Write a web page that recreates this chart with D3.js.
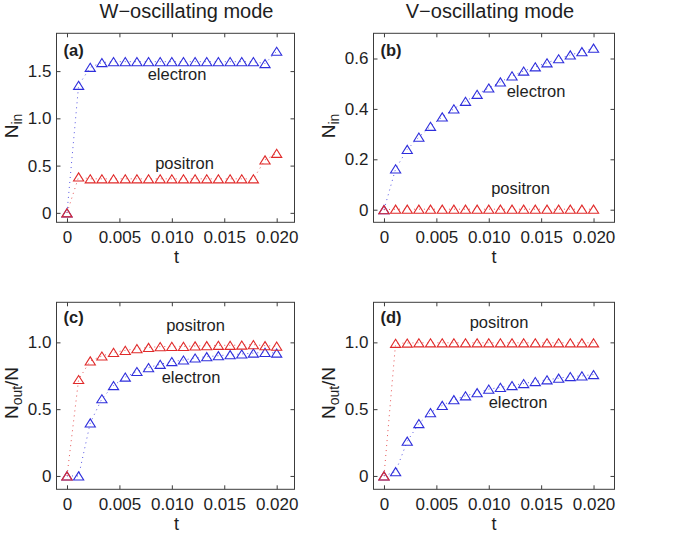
<!DOCTYPE html>
<html><head><meta charset="utf-8">
<script src="https://cdn.jsdelivr.net/npm/d3@7/dist/d3.min.js"></script>
<style>body{margin:0;background:#fff}svg{display:block}</style>
</head><body>
<svg id="chart" width="685" height="534"></svg>
<script>
// ---------------- data ----------------
const tValues = [0, 0.00111, 0.00222, 0.00333, 0.00444, 0.00556, 0.00667, 0.00778, 0.00889, 0.01,
                 0.01111, 0.01222, 0.01333, 0.01444, 0.01556, 0.01667, 0.01778, 0.01889, 0.02];

const aElectron = [0, 1.35, 1.54, 1.59, 1.60, 1.60, 1.60, 1.60, 1.60, 1.60, 1.60, 1.60, 1.60, 1.60, 1.60, 1.60, 1.60, 1.58, 1.71];
const aPositron = [0, 0.38, 0.36, 0.36, 0.36, 0.36, 0.36, 0.36, 0.36, 0.36, 0.36, 0.36, 0.36, 0.36, 0.36, 0.36, 0.36, 0.56, 0.63];

const bElectron = [0, 0.162, 0.239, 0.288, 0.331, 0.368, 0.400, 0.430, 0.458, 0.483, 0.507, 0.531, 0.550, 0.567, 0.583, 0.599, 0.614, 0.627, 0.641];
const bPositron = [0, 0.002, 0.002, 0.002, 0.002, 0.002, 0.002, 0.002, 0.002, 0.002, 0.002, 0.002, 0.002, 0.002, 0.002, 0.002, 0.002, 0.002, 0.002];

const cElectron = [0, 0, 0.397, 0.578, 0.677, 0.740, 0.782, 0.811, 0.836, 0.856, 0.868, 0.883, 0.893, 0.900, 0.908, 0.913, 0.920, 0.925, 0.920];
const cPositron = [0, 0.722, 0.861, 0.898, 0.925, 0.940, 0.953, 0.962, 0.968, 0.970, 0.970, 0.973, 0.975, 0.978, 0.978, 0.980, 0.983, 0.975, 0.972];

const dElectron = [0, 0.032, 0.260, 0.392, 0.474, 0.528, 0.571, 0.600, 0.623, 0.650, 0.663, 0.677, 0.692, 0.707, 0.720, 0.732, 0.744, 0.749, 0.759];
const dPositron = [0, 0.993, 0.995, 0.997, 0.997, 0.997, 0.997, 0.997, 0.997, 0.997, 0.997, 0.997, 0.997, 0.997, 0.997, 0.997, 0.997, 0.997, 0.997];

const xTicks = [0, 0.005, 0.010, 0.015, 0.020];
const xTickLabels = ["0", "0.005", "0.010", "0.015", "0.020"];
const yTicksA = [0, 0.5, 1.0, 1.5];
const yTickLabelsA = ["0", "0.5", "1.0", "1.5"];
const yTicksB = [0, 0.2, 0.4, 0.6];
const yTickLabelsB = ["0", "0.2", "0.4", "0.6"];
const yTicksCD = [0, 0.5, 1.0];
const yTickLabelsCD = ["0", "0.5", "1.0"];

const columnTitles = ["W\u2212oscillating mode", "V\u2212oscillating mode"];
const panelLetters = ["(a)", "(b)", "(c)", "(d)"];
const seriesNames = ["electron", "positron"];

// ---------------- drawing ----------------
const svg = d3.select("#chart");
const FONT = "'Liberation Sans', Arial, Helvetica, sans-serif";
const BLUE = "#2e2edc", RED = "#e02a2a", FRAME = "#3c3c3c", TEXT = "#1e1e1e";

const tri = {
  draw(ctx, size) {
    const w = Math.sqrt(size) * 1.5, h = Math.sqrt(size) * 1.2;
    ctx.moveTo(0, -h / 2);
    ctx.lineTo(w / 2, h / 2);
    ctx.lineTo(-w / 2, h / 2);
    ctx.closePath();
  }
};

function panel(cfg) {
  const x = d3.scaleLinear().domain(cfg.xDomain).range([cfg.left, cfg.right]);
  const y = d3.scaleLinear().domain(cfg.yDomain).range([cfg.bottom, cfg.top]);
  const g = svg.append("g");
  const tickLen = 4;

  g.append("rect").attr("x", cfg.left).attr("y", cfg.top)
    .attr("width", cfg.right - cfg.left).attr("height", cfg.bottom - cfg.top)
    .attr("fill", "none").attr("stroke", FRAME).attr("stroke-width", 1);

  const mk = (axis) => axis.tickSizeInner(-tickLen).tickSizeOuter(0);
  const xb = g.append("g").attr("transform", `translate(0,${cfg.bottom})`)
    .call(mk(d3.axisBottom(x).tickValues(xTicks).tickFormat((d, i) => xTickLabels[i])).tickPadding(9));
  const xt = g.append("g").attr("transform", `translate(0,${cfg.top})`)
    .call(mk(d3.axisTop(x).tickValues(xTicks).tickFormat("")));
  const yl = g.append("g").attr("transform", `translate(${cfg.left},0)`)
    .call(mk(d3.axisLeft(y).tickValues(cfg.yTicks).tickFormat((d, i) => cfg.yTickLabels[i])).tickPadding(5));
  const yr = g.append("g").attr("transform", `translate(${cfg.right},0)`)
    .call(mk(d3.axisRight(y).tickValues(cfg.yTicks).tickFormat("")));
  [xb, xt, yl, yr].forEach(a => {
    a.select(".domain").remove();
    a.selectAll("line").attr("stroke", FRAME);
    a.selectAll("text").attr("fill", TEXT).style("font-family", FONT).style("font-size", "17px");
  });

  const line = d3.line().x((d, i) => x(tValues[i])).y(d => y(d));
  const sym = d3.symbol().type(tri).size(46);
  cfg.series.forEach(s => {
    g.append("path").datum(s.values).attr("d", line)
      .attr("fill", "none").attr("stroke", s.color).attr("stroke-width", 1)
      .attr("stroke-dasharray", "1,4").attr("opacity", 0.8);
  });
  cfg.series.forEach(s => {
    g.selectAll(null).data(s.values).enter().append("path")
      .attr("d", sym)
      .attr("transform", (d, i) => `translate(${x(tValues[i])},${y(d)})`)
      .attr("fill", "none").attr("stroke", s.color).attr("stroke-width", 1.1);
  });

  g.append("text").attr("x", cfg.left + 7).attr("y", cfg.letterY)
    .text(cfg.letter).attr("fill", TEXT)
    .style("font-family", FONT).style("font-size", "16.5px").style("font-weight", "bold");

  cfg.labels.forEach(l => {
    g.append("text").attr("x", l.x).attr("y", l.y).attr("text-anchor", "middle")
      .text(l.text).attr("fill", TEXT).style("font-family", FONT).style("font-size", "16.5px");
  });

  g.append("text").attr("x", cfg.xLabelX).attr("y", cfg.xLabelY).attr("text-anchor", "middle")
    .text("t").attr("fill", TEXT).style("font-family", FONT).style("font-size", "18px");

  const yt = g.append("text")
    .attr("transform", `translate(${cfg.left - 39},${cfg.yLabelY}) rotate(-90)`)
    .attr("text-anchor", "middle").attr("fill", TEXT)
    .style("font-family", FONT).style("font-size", "19px");
  cfg.yLabel.forEach(p => {
    const ts = yt.append("tspan").text(p.t);
    if (p.sub) ts.attr("dy", 4).style("font-size", "14px");
    if (p.after) ts.attr("dy", -4);
  });
}

const L = {left: 56.5, right: 294.5}, R = {left: 373.5, right: 614.5};
const T = {top: 33.3, bottom: 222.3}, B = {top: 302.3, bottom: 489.3};

panel({ ...L, ...T, xDomain: [-0.001, 0.0217], yDomain: [-0.1, 1.9],
  yTicks: yTicksA, yTickLabels: yTickLabelsA, letter: panelLetters[0], letterY: 56,
  series: [{values: aElectron, color: BLUE}, {values: aPositron, color: RED}],
  labels: [{text: seriesNames[0], x: 177, y: 80}, {text: seriesNames[1], x: 184.5, y: 169}],
  xLabelX: 176.5, xLabelY: 263, yLabelY: 126,
  yLabel: [{t: "N"}, {t: "in", sub: true}] });

panel({ ...R, ...T, xDomain: [-0.001, 0.022], yDomain: [-0.05, 0.7],
  yTicks: yTicksB, yTickLabels: yTickLabelsB, letter: panelLetters[1], letterY: 56,
  series: [{values: bElectron, color: BLUE}, {values: bPositron, color: RED}],
  labels: [{text: seriesNames[0], x: 536, y: 97}, {text: seriesNames[1], x: 520.5, y: 194}],
  xLabelX: 494, xLabelY: 263, yLabelY: 126,
  yLabel: [{t: "N"}, {t: "in", sub: true}] });

panel({ ...L, ...B, xDomain: [-0.001, 0.0217], yDomain: [-0.1, 1.3],
  yTicks: yTicksCD, yTickLabels: yTickLabelsCD, letter: panelLetters[2], letterY: 323,
  series: [{values: cElectron, color: BLUE}, {values: cPositron, color: RED}],
  labels: [{text: seriesNames[1], x: 195.5, y: 331}, {text: seriesNames[0], x: 191, y: 383}],
  xLabelX: 176.5, xLabelY: 529.5, yLabelY: 393,
  yLabel: [{t: "N"}, {t: "out", sub: true}, {t: "/N", after: true}] });

panel({ ...R, ...B, xDomain: [-0.001, 0.022], yDomain: [-0.1, 1.3],
  yTicks: yTicksCD, yTickLabels: yTickLabelsCD, letter: panelLetters[3], letterY: 323,
  series: [{values: dElectron, color: BLUE}, {values: dPositron, color: RED}],
  labels: [{text: seriesNames[1], x: 499, y: 328}, {text: seriesNames[0], x: 518, y: 408}],
  xLabelX: 494, xLabelY: 529.5, yLabelY: 393,
  yLabel: [{t: "N"}, {t: "out", sub: true}, {t: "/N", after: true}] });

svg.append("text").attr("x", 186.5).attr("y", 18).attr("text-anchor", "middle")
  .text(columnTitles[0]).attr("fill", TEXT).style("font-family", FONT).style("font-size", "20px");
svg.append("text").attr("x", 490).attr("y", 18).attr("text-anchor", "middle")
  .text(columnTitles[1]).attr("fill", TEXT).style("font-family", FONT).style("font-size", "20px");
</script>
</body></html>
